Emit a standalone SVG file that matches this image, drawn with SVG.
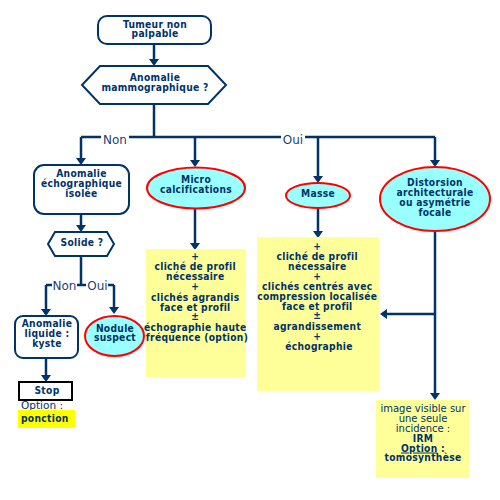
<svg xmlns="http://www.w3.org/2000/svg" width="500" height="500" viewBox="0 0 500 500">
<defs>
<marker id="ah" viewBox="0 0 7 10" markerWidth="7" markerHeight="10" refX="5" refY="5" orient="auto" markerUnits="userSpaceOnUse">
<path d="M0,0 L7,5 L0,10 z" fill="#003366"/>
</marker>
</defs>
<style>
text{font-family:"DejaVu Sans Condensed","DejaVu Sans",sans-serif;fill:#003366;text-anchor:middle}
.b{font-weight:bold;font-size:10.2px;letter-spacing:0.3px}
.n{font-weight:normal;font-size:10px;font-family:"DejaVu Sans",sans-serif}
.lbl{font-family:"DejaVu Sans",sans-serif;font-size:12px;fill:#1f3f6f}
.box{fill:#fff;stroke:#003366;stroke-width:2}
.ell{fill:#99ffff;stroke:#ff0000;stroke-width:2}
.yel{fill:#ffff99}
.c{fill:none;stroke:#003366;stroke-width:2.5}
.a{marker-end:url(#ah)}
.u{text-decoration:underline}
</style>
<g id="connectors">
<path class="c a" d="M154,44 V64"/>
<path class="c" d="M154,104 V137"/>
<path class="c" d="M81,137 H101 M129,137 H281 M305,137 H435"/>
<path class="c a" d="M81,137 V163"/>
<path class="c a" d="M195,137 V165"/>
<path class="c a" d="M318,137 V181"/>
<path class="c a" d="M435,137 V165"/>
<path class="c a" d="M81,214 V230"/>
<path class="c" d="M81,256 V285 M46,285 H52 M77,285 H86 M108,285 H114"/>
<path class="c a" d="M46,285 V314"/>
<path class="c a" d="M114,285 V312"/>
<path class="c a" d="M46,358 V380"/>
<path class="c a" d="M195,208 V248"/>
<path class="c a" d="M318,208 V236"/>
<path class="c a" d="M435,231 V398"/>
<path class="c a" d="M435,314 H382"/>
<text class="lbl" x="115" y="144">Non</text>
<text class="lbl" x="293" y="144">Oui</text>
<text class="lbl" x="64.5" y="290">Non</text>
<text class="lbl" x="97.5" y="290">Oui</text>
</g>
<g id="n1">
<rect class="box" x="98" y="16" width="113" height="28" rx="9"/>
<text class="b" x="155" y="27.5">Tumeur non</text>
<text class="b" x="155" y="37">palpable</text>
</g>
<g id="n2">
<polygon class="box" points="82,85 100,66 208,66 226,85 208,104 100,104"/>
<text class="b" x="155" y="81">Anomalie</text>
<text class="b" x="155" y="91">mammographique ?</text>
</g>
<g id="n3">
<rect class="box" x="34" y="165" width="95" height="49" rx="10"/>
<text class="b" x="81.5" y="177">Anomalie</text>
<text class="b" x="81.5" y="187">échographique</text>
<text class="b" x="81.5" y="197">isolée</text>
</g>
<g id="n4">
<polygon class="box" points="48,244 55,232 107,232 114,244 107,256 55,256"/>
<text class="b" x="82" y="245.5">Solide ?</text>
</g>
<g id="n5">
<rect class="box" x="15" y="316" width="63" height="42" rx="8"/>
<text class="b" x="47" y="327">Anomalie</text>
<text class="b" x="47" y="337">liquide :</text>
<text class="b" x="47" y="347">kyste</text>
</g>
<g id="n6">
<ellipse class="ell" cx="114.5" cy="336" rx="29.5" ry="20"/>
<text class="b" x="115" y="331.5">Nodule</text>
<text class="b" x="115" y="341">suspect</text>
</g>
<g id="n7">
<rect x="19" y="382" width="53" height="18" fill="#fff" stroke="#000" stroke-width="2"/>
<text class="b" x="47" y="393.5">Stop</text>
<text class="n" x="21" y="409" style="text-anchor:start;font-size:10.5px"><tspan class="u">Option</tspan> :</text>
<rect x="18" y="410" width="57" height="18" fill="#ffff00"/>
<text class="b" x="21" y="421.5" style="text-anchor:start">ponction</text>
</g>
<g id="n8">
<ellipse class="ell" cx="196" cy="188" rx="49" ry="20.5"/>
<text class="b" x="196" y="183">Micro</text>
<text class="b" x="196" y="193">calcifications</text>
</g>
<g id="n9">
<ellipse class="ell" cx="318" cy="195.5" rx="32" ry="12.5"/>
<text class="b" x="318" y="196.5">Masse</text>
</g>
<g id="n10">
<ellipse class="ell" cx="435" cy="199" rx="55" ry="32"/>
<text class="b" x="435" y="186">Distorsion</text>
<text class="b" x="435" y="196">architecturale</text>
<text class="b" x="435" y="206">ou asymétrie</text>
<text class="b" x="435" y="216">focale</text>
</g>
<g id="n11">
<rect class="yel" x="146" y="249" width="100" height="128"/>
<text class="b" x="197">
<tspan x="197" y="260">+</tspan>
<tspan x="197" y="270">cliché de profil</tspan>
<tspan x="197" y="280">nécessaire</tspan>
<tspan x="197" y="290">+</tspan>
<tspan x="197" y="300.5">clichés agrandis</tspan>
<tspan x="197" y="310.5">face et profil</tspan>
<tspan x="197" y="320">±</tspan>
<tspan x="197" y="330.5">échographie haute</tspan>
<tspan x="197" y="340.5">fréquence (option)</tspan>
</text>
</g>
<g id="n12">
<rect class="yel" x="257" y="237" width="122" height="154"/>
<text class="b" x="319">
<tspan x="319" y="249.5">+</tspan>
<tspan x="319" y="259.5">cliché de profil</tspan>
<tspan x="319" y="269.5">nécessaire</tspan>
<tspan x="319" y="279.5">+</tspan>
<tspan x="319" y="289.5">clichés centrés avec</tspan>
<tspan x="319" y="299.5">compression localisée</tspan>
<tspan x="319" y="309.5">face et profil</tspan>
<tspan x="319" y="319">±</tspan>
<tspan x="319" y="329.5">agrandissement</tspan>
<tspan x="319" y="339.5">+</tspan>
<tspan x="319" y="350">échographie</tspan>
</text>
</g>
<g id="n13">
<rect class="yel" x="376" y="400" width="93" height="78"/>
<text class="n" x="423" y="411.5">image visible sur</text>
<text class="n" x="423" y="421.5">une seule</text>
<text class="n" x="423" y="431.5">incidence :</text>
<text class="b" x="423" y="441.5">IRM</text>
<text class="b" x="423" y="451.5"><tspan class="u">Option</tspan> :</text>
<text class="b" x="423" y="461">tomosynthèse</text>
</g>
</svg>
